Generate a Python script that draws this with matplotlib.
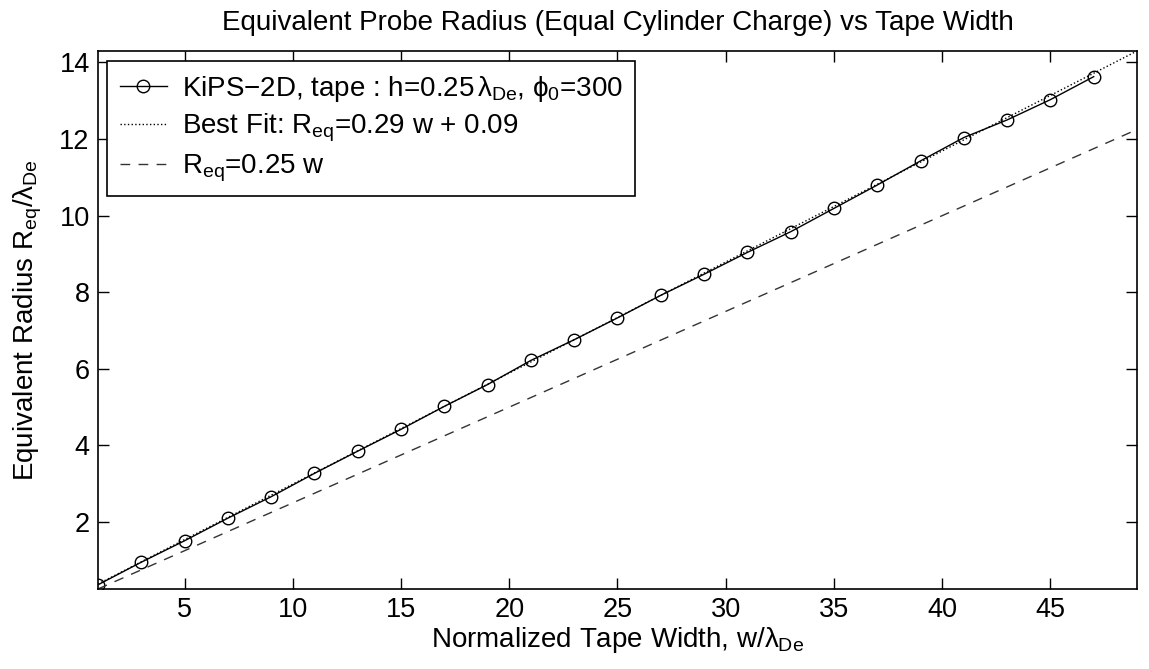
import matplotlib
matplotlib.use("Agg")
import matplotlib.pyplot as plt

plt.rcParams['font.family'] = ['Liberation Sans', 'DejaVu Sans']
plt.rcParams['mathtext.fontset'] = 'custom'
plt.rcParams['mathtext.rm'] = 'Liberation Sans'
plt.rcParams['mathtext.it'] = 'Liberation Sans'
plt.rcParams['mathtext.bf'] = 'Liberation Sans:bold'

# KiPS-2D simulation points
tape_w = [1, 3, 5, 7, 9, 11, 13, 15, 17, 19, 21, 23,
          25, 27, 29, 31, 33, 35, 37, 39, 41, 43, 45, 47]
r_eq = [0.36, 0.95, 1.51, 2.10, 2.66, 3.27, 3.85, 4.42, 5.02, 5.59, 6.22, 6.76,
        7.33, 7.92, 8.47, 9.04, 9.58, 10.19, 10.80, 11.43, 12.04, 12.50, 13.03, 13.63]

# end points of the two straight lines
line_w = [1, 49]
fit_r = [0.38, 14.30]
ref_r = [0.25, 12.25]

FS = 20
W, H = 1149, 669
fig = plt.figure(figsize=(W/100, H/100), dpi=100)
ax = fig.add_axes([98/W, 1-589/H, (1137-98)/W, (589-51)/H])

ax.plot(tape_w, r_eq, '-o', color='black', lw=1.0, ms=9, mfc='none', mew=1.0,
        label=r'KiPS$-$2D, tape : h=0.25$\,\lambda_{De}$, $\phi_0$=300')
ax.plot(line_w, fit_r, ':', color='black', lw=1.0,
        label=r'Best Fit: R$_{eq}$=0.29 w + 0.09')
ax.plot(line_w, ref_r, '--', color='#333333', lw=1.0, dashes=(7, 6),
        label=r'R$_{eq}$=0.25 w')

ax.set_xlim(1, 49)
ax.set_ylim(0.25, 14.3)
ax.set_xticks([5, 10, 15, 20, 25, 30, 35, 40, 45])
ax.set_yticks([2, 4, 6, 8, 10, 12, 14])
ax.tick_params(direction='in', length=8, width=1, top=True, right=True, labelsize=FS - 0.5, pad=6)
for s in ax.spines.values():
    s.set_linewidth(1.2)

ax.set_title('Equivalent Probe Radius (Equal Cylinder Charge) vs Tape Width', fontsize=FS, pad=15)
ax.set_xlabel(r'Normalized Tape Width, w/$\lambda_{De}$', fontsize=FS, labelpad=1)
ax.set_ylabel(r'Equivalent Radius R$_{eq}$/$\lambda_{De}$', fontsize=FS, labelpad=11)

leg = ax.legend(loc='upper left', bbox_to_anchor=(107/W, 1-61/H), bbox_transform=fig.transFigure,
                borderaxespad=0, fancybox=False, edgecolor='black', framealpha=1,
                fontsize=FS, handlelength=1.7, handletextpad=0.55, labelspacing=0.3,
                borderpad=0.45)
leg.get_frame().set_linewidth(1.2)

fig.savefig('out.png', dpi=100)
